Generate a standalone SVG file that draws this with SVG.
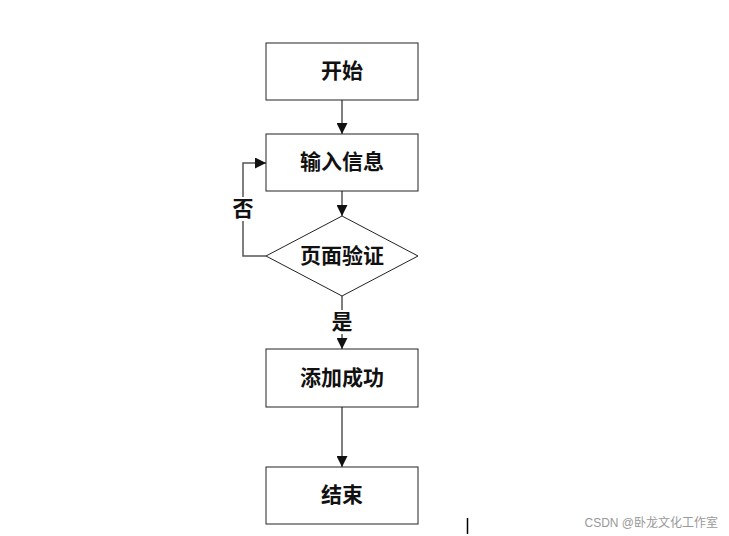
<svg xmlns="http://www.w3.org/2000/svg" width="729" height="536" viewBox="0 0 729 536">
<style>
.n{fill:#fff;stroke:#222;stroke-width:1}
.t{font-family:"Liberation Serif","Noto Sans CJK SC",serif;font-size:21px;font-weight:bold;fill:#111;text-anchor:middle;dominant-baseline:central}
.c{fill:none;stroke:#555;stroke-width:1.5}
</style>
<defs>
<marker id="a" viewBox="0 0 10 10" refX="10" refY="5" markerWidth="11" markerHeight="11" markerUnits="userSpaceOnUse" orient="auto">
<path d="M0,0L10,5L0,10z" fill="#111"/>
</marker>
</defs>
<rect width="729" height="536" fill="#fff"/>
<g id="connectors">
<line class="c" x1="342" y1="100" x2="342" y2="134" marker-end="url(#a)"/>
<line class="c" x1="342" y1="191" x2="342" y2="216" marker-end="url(#a)"/>
<line class="c" x1="342" y1="296" x2="342" y2="349" marker-end="url(#a)"/>
<line class="c" x1="342" y1="407" x2="342" y2="467" marker-end="url(#a)"/>
<polyline class="c" points="266,256 243,256 243,163 266,163" marker-end="url(#a)"/>
<rect x="231" y="197" width="24" height="24" fill="#fff"/>
<text class="t" x="243" y="209">否</text>
<rect x="330" y="310" width="24" height="24" fill="#fff"/>
<text class="t" x="342" y="322">是</text>
</g>
<g id="start"><rect class="n" x="266" y="43" width="152" height="57"/><text class="t" x="342" y="71">开始</text></g>
<g id="input"><rect class="n" x="266" y="134" width="152" height="57"/><text class="t" x="342" y="162">输入信息</text></g>
<g id="verify"><polygon class="n" points="342,216 418,256 342,296 266,256"/><text class="t" x="342" y="256">页面验证</text></g>
<g id="success"><rect class="n" x="266" y="349" width="152" height="58"/><text class="t" x="342" y="378">添加成功</text></g>
<g id="end"><rect class="n" x="266" y="467" width="152" height="57"/><text class="t" x="342" y="495">结束</text></g>
<line x1="467.5" y1="518" x2="467.5" y2="534" stroke="#000" stroke-width="1.5"/>
<text x="718" y="527" font-family="Liberation Sans,'Noto Sans CJK SC',sans-serif" font-size="12" fill="#999" text-anchor="end">CSDN @卧龙文化工作室</text>
</svg>
